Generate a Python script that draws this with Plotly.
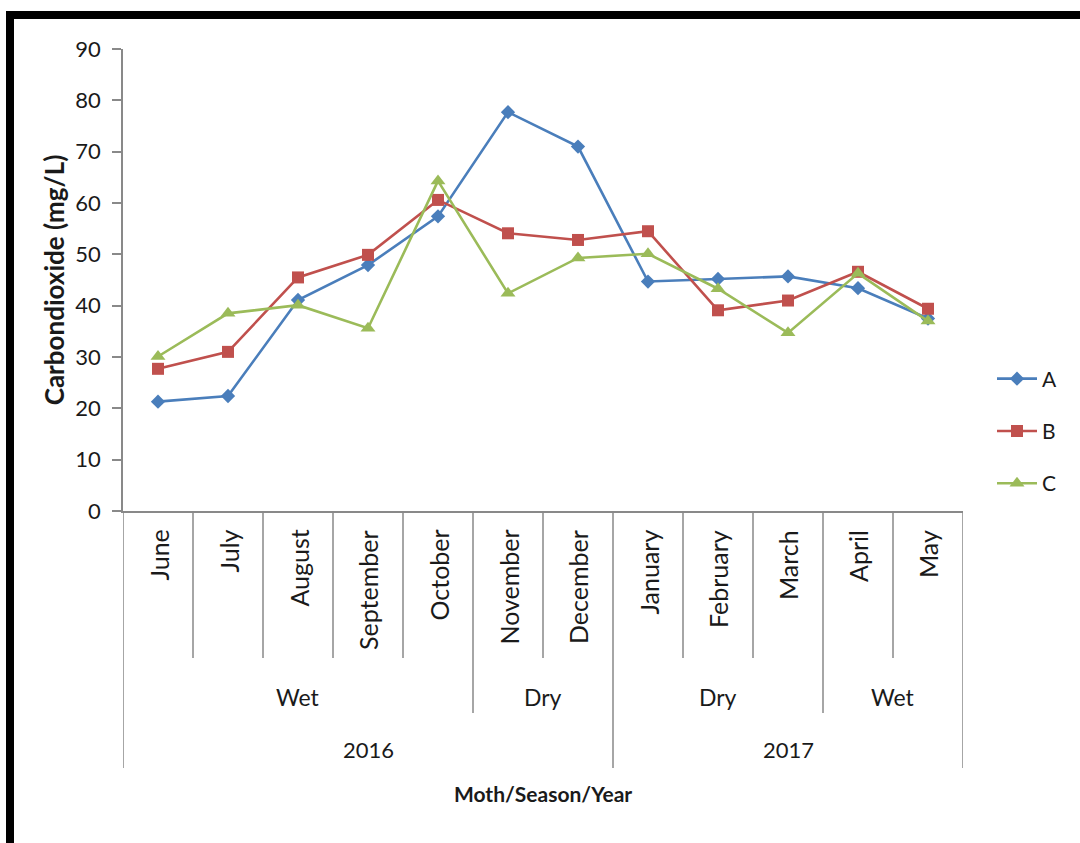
import plotly.graph_objects as go

# ---- data -------------------------------------------------------------
months = ["June", "July", "August", "September", "October", "November",
          "December", "January", "February", "March", "April", "May"]
seasons = ["Wet", "Dry", "Dry", "Wet"]
season_spans = [5, 2, 3, 2]
years = ["2016", "2017"]
year_spans = [7, 5]

site_a = [21.3, 22.4, 41.1, 47.9, 57.4, 77.7, 71.0, 44.7, 45.2, 45.7, 43.4, 37.5]
site_b = [27.7, 31.0, 45.5, 49.9, 60.6, 54.1, 52.8, 54.5, 39.1, 41.0, 46.6, 39.4]
site_c = [30.1, 38.5, 40.1, 35.6, 64.3, 42.4, 49.3, 50.1, 43.3, 34.7, 46.3, 37.0]

series = [
    ("A", site_a, "#4A7EBB", "diamond", 11),
    ("B", site_b, "#C0504D", "square", 12),
    ("C", site_c, "#9BBB59", "triangle-up", 13),
]

# ---- geometry helpers (pixel -> paper) ---------------------------------
W, H = 1080, 843
L, R, T, B = 123, 117, 49, 332
PW, PH = W - L - R, H - T - B


def px(x):
    return (x - L) / PW


def py(y):
    return (H - B - y) / PH


FONT = "Lato, 'Open Sans', sans-serif"
AXIS_GREY = "#898989"
TEXT = "#1a1a1a"

fig = go.Figure()
for i, (name, vals, color, symbol, size) in enumerate(series):
    fig.add_trace(go.Scatter(
        x=months, y=vals, name=name, mode="lines+markers",
        legendgroup=name,
        line=dict(color=color, width=2.6),
        marker=dict(symbol=symbol, size=size, color=color,
                    line=dict(width=0)),
    ))

shapes = []
annotations = []

# category separators
month_bottom = py(658)
season_bottom = py(713)
year_bottom = py(768)

season_edges = []
acc = 0
for s in season_spans:
    acc += s
    season_edges.append(acc)
year_edges = []
acc = 0
for s in year_spans:
    acc += s
    year_edges.append(acc)

for k in range(0, len(months) + 1):
    if k in [0] + year_edges:
        y1 = year_bottom
    elif k in season_edges:
        y1 = season_bottom
    else:
        y1 = month_bottom
    shapes.append(dict(type="line", xref="x", yref="paper",
                       x0=k - 0.5, x1=k - 0.5, y0=0, y1=y1,
                       line=dict(color=AXIS_GREY, width=1.5)))

# month labels (rotated)
for m in months:
    annotations.append(dict(
        x=m, xref="x", y=py(528), yref="paper", text=m, showarrow=False,
        textangle=-90, xanchor="center", yanchor="top",
        font=dict(family=FONT, size=25, color=TEXT)))

# season labels
start = 0
for s, span in zip(seasons, season_spans):
    annotations.append(dict(
        x=start + (span - 1) / 2, xref="x", y=py(697), yref="paper",
        text=s, showarrow=False, xanchor="center", yanchor="middle",
        font=dict(family=FONT, size=23, color=TEXT)))
    start += span

# year labels
start = 0
for yr, span in zip(years, year_spans):
    annotations.append(dict(
        x=start + (span - 1) / 2, xref="x", y=py(750), yref="paper",
        text=yr, showarrow=False, xanchor="center", yanchor="middle",
        font=dict(family=FONT, size=22, color=TEXT)))
    start += span

# x-axis title
annotations.append(dict(
    x=0.5, xref="paper", y=py(793), yref="paper",
    text="<b>Moth/Season/Year</b>", showarrow=False,
    xanchor="center", yanchor="middle",
    font=dict(family=FONT, size=21, color=TEXT)))

# outer frame (top and left edges visible)
shapes.append(dict(type="rect", xref="paper", yref="paper",
                   x0=px(10), x1=px(W + 30), y0=py(15), y1=py(H + 30),
                   line=dict(color="black", width=8), layer="above"))

fig.update_layout(
    width=W, height=H,
    margin=dict(l=L, r=R, t=T, b=B),
    paper_bgcolor="white", plot_bgcolor="white",
    shapes=shapes, annotations=annotations,
    showlegend=True,
    legend=dict(x=px(992), y=py(431), xanchor="left", yanchor="middle",
                font=dict(family=FONT, size=21, color=TEXT),
                tracegroupgap=22, itemwidth=40, bgcolor="rgba(0,0,0,0)"),
    xaxis=dict(type="category", range=[-0.5, len(months) - 0.5],
               showticklabels=False, ticks="", showgrid=False,
               showline=True, linecolor=AXIS_GREY, linewidth=1.5,
               zeroline=False),
    yaxis=dict(range=[0, 90], dtick=10, showgrid=False, zeroline=False,
               showline=True, linecolor=AXIS_GREY, linewidth=1.5,
               ticks="outside", ticklen=9, tickcolor=AXIS_GREY, tickwidth=1.5,
               ticklabelstandoff=7,
               tickfont=dict(family=FONT, size=22, color=TEXT),
               title=dict(text="<b>Carbondioxide (mg/L)</b>", standoff=3,
                          font=dict(family=FONT, size=26, color=TEXT))),
)

fig.write_html("out.html")
